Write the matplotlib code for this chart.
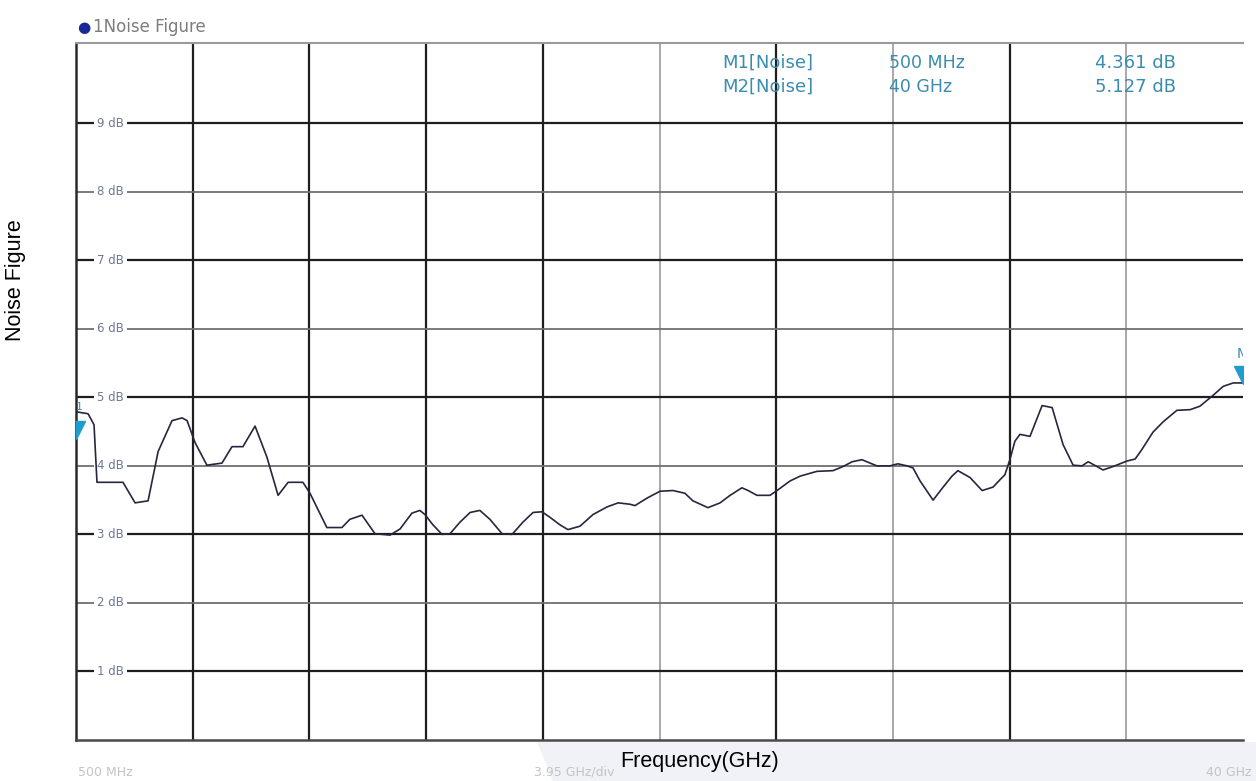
import matplotlib
matplotlib.use("Agg")
import matplotlib.pyplot as plt
from matplotlib.patches import Polygon

# ---------------- data ----------------
freq_ghz = [0.50, 0.91, 1.11, 1.21, 1.41, 2.09, 2.50, 2.94, 3.28, 3.75, 4.09, 4.26,
            4.53, 4.93, 5.44, 5.78, 6.15, 6.56, 6.96, 7.34, 7.68, 8.18, 8.42, 8.99,
            9.50, 9.77, 10.18, 10.62, 11.13, 11.47, 11.87, 12.14, 12.31, 12.58, 12.89,
            13.16, 13.50, 13.84, 14.17, 14.51, 14.92, 15.26, 15.63, 15.97, 16.27, 16.54,
            16.88, 17.15, 17.56, 18.00, 18.47, 18.85, 19.25, 19.42, 19.83, 20.27, 20.71,
            21.11, 21.38, 21.89, 22.30, 22.64, 23.04, 23.25, 23.55, 23.99, 24.26, 24.67,
            25.01, 25.58, 26.12, 26.46, 26.77, 27.10, 27.38, 27.61, 28.05, 28.32, 28.63,
            28.83, 29.07, 29.51, 29.85, 30.15, 30.35, 30.76, 31.17, 31.54, 31.78, 31.94,
            32.11, 32.28, 32.45, 32.79, 33.20, 33.54, 33.91, 34.25, 34.55, 34.76, 35.06,
            35.26, 35.60, 36.07, 36.35, 36.58, 36.95, 37.29, 37.76, 38.21, 38.54, 38.99,
            39.33, 39.67, 40.00]
nf_db = [4.79, 4.76, 4.60, 3.76, 3.76, 3.76, 3.46, 3.49, 4.21, 4.66, 4.70, 4.66,
         4.34, 4.01, 4.04, 4.28, 4.28, 4.58, 4.13, 3.57, 3.76, 3.76, 3.60, 3.10,
         3.10, 3.22, 3.28, 3.01, 2.99, 3.08, 3.31, 3.35, 3.29, 3.14, 3.00,
         3.01, 3.18, 3.32, 3.35, 3.22, 3.01, 3.00, 3.18, 3.32, 3.33, 3.25,
         3.14, 3.07, 3.12, 3.29, 3.40, 3.46, 3.44, 3.42, 3.53, 3.63, 3.64,
         3.60, 3.49, 3.39, 3.46, 3.57, 3.68, 3.64, 3.57, 3.57, 3.65, 3.78,
         3.85, 3.92, 3.93, 3.99, 4.06, 4.09, 4.04, 4.00, 4.00, 4.03, 4.00,
         3.97, 3.78, 3.50, 3.69, 3.85, 3.93, 3.83, 3.64, 3.69, 3.80, 3.87,
         4.09, 4.36, 4.46, 4.43, 4.88, 4.85, 4.31, 4.01, 4.00, 4.06, 3.99,
         3.94, 3.99, 4.07, 4.10, 4.24, 4.49, 4.64, 4.81, 4.82, 4.87, 5.03,
         5.16, 5.21, 5.21]

ytick_db = [1, 2, 3, 4, 5, 6, 7, 8, 9]
ytick_labels = ["1 dB", "2 dB", "3 dB", "4 dB", "5 dB", "6 dB", "7 dB", "8 dB", "9 dB"]
x_start_ghz = 0.5
x_stop_ghz = 40.0
x_div_ghz = 3.95
x_labels = ["500 MHz", "3.95 GHz/div", "40 GHz"]

marker_names = ["M1[Noise]", "M2[Noise]"]
marker_freq_labels = ["500 MHz", "40 GHz"]
marker_value_labels = ["4.361 dB", "5.127 dB"]
marker_freq_ghz = [0.5, 40.0]
marker_pos_db = [4.52, 5.33]

trace_title = "1Noise Figure"
xlabel = "Frequency(GHz)"
ylabel = "Noise Figure"

# ---------------- figure ----------------
W, H = 1256, 781
fig = plt.figure(figsize=(W / 100, H / 100), dpi=100)
fig.patch.set_facecolor("white")

def fx(px):
    return px / W

def fy(py):
    return 1 - py / H

# faint watermark band in the bottom margin (behind everything)
fig.patches.append(Polygon([(fx(537), fy(742)), (fx(553), fy(781)), (fx(1256), fy(781)),
                            (fx(1256), fy(742))], closed=True, transform=fig.transFigure,
                           facecolor="#f1f2f7", edgecolor="none", zorder=-5))

ax = fig.add_axes([fx(76), fy(740), (1243 - 76) / W, (740 - 43) / H])
ax.set_zorder(1)
ax.set_xlim(x_start_ghz, x_stop_ghz)
ax.set_ylim(0, 10.17)
ax.set_xticks([])
ax.set_yticks([])
ax.set_facecolor("white")

dark = "#1e1e1e"
light = "#9a9a9a"

# vertical grid (10 divisions)
dark_v = {1, 2, 3, 4, 6, 8}
for i in range(1, 10):
    xv = x_start_ghz + x_div_ghz * i
    if i in dark_v:
        ax.axvline(xv, color=dark, lw=1.6, zorder=1)
    else:
        ax.axvline(xv, color=light, lw=1.2, zorder=1)

# horizontal grid
for v in ytick_db:
    if v % 2 == 1:
        ax.axhline(v, color=dark, lw=1.6, zorder=1)
    else:
        ax.axhline(v, color="#707070", lw=1.3, zorder=1)

for v, lab in zip(ytick_db, ytick_labels):
    ax.text(1.22, v, lab, ha="left", va="center", fontsize=8.5, color="#6f7896",
            zorder=3, bbox=dict(facecolor="white", edgecolor="none", pad=2.2))

ax.spines["left"].set_color("#2a2a2a"); ax.spines["left"].set_linewidth(1.8)
ax.spines["bottom"].set_color("#4a4a4a"); ax.spines["bottom"].set_linewidth(1.8)
ax.spines["top"].set_color("#9a9a9a"); ax.spines["top"].set_linewidth(1.5)
ax.spines["right"].set_visible(False)

# trace
ax.plot(freq_ghz, nf_db, color="#26263e", lw=1.2, zorder=5)

# markers
teal = "#1f9cd0"
for f, d in zip(marker_freq_ghz, marker_pos_db):
    ax.plot(f, d, marker="v", ms=13, color=teal, zorder=6, clip_on=True)
ax.text(40.0, 5.63, "M", ha="center", va="center", fontsize=10, color="#3b8fa8",
        zorder=6, clip_on=True)
ax.text(0.62, 4.86, "1", ha="center", va="center", fontsize=8, color="#3b8fa8",
        zorder=6, clip_on=True)

# header
fig.text(fx(84), fy(27), "\u25CF", ha="center", va="center", fontsize=11, color="#1c2896")
fig.text(fx(93), fy(27), trace_title, ha="left", va="center", fontsize=12, color="#7d7d7d")

# marker table
tcol = "#3a8cb0"
rows_y = [63, 87]
for r, yy in enumerate(rows_y):
    fig.text(fx(722), fy(yy), marker_names[r], ha="left", va="center", fontsize=13, color=tcol, zorder=3)
    fig.text(fx(889), fy(yy), marker_freq_labels[r], ha="left", va="center", fontsize=12.5, color=tcol, zorder=3)
    fig.text(fx(1176), fy(yy), marker_value_labels[r], ha="right", va="center", fontsize=13, color=tcol, zorder=3)

# bottom instrument labels
gcol = "#c4c4c4"
fig.text(fx(78), fy(772), x_labels[0], ha="left", va="center", fontsize=9, color=gcol)
fig.text(fx(614), fy(772), x_labels[1], ha="right", va="center", fontsize=9, color=gcol)
fig.text(fx(1252), fy(772), x_labels[2], ha="right", va="center", fontsize=9, color=gcol)

# axis labels
fig.text(fx(700), fy(761), xlabel, ha="center", va="center", fontsize=15.5,
         family="Liberation Sans", color="black")
fig.text(fx(15), fy(280), ylabel, ha="center", va="center", rotation=90, fontsize=15.5,
         family="Liberation Sans", color="black")

fig.savefig("out.png", dpi=100)
